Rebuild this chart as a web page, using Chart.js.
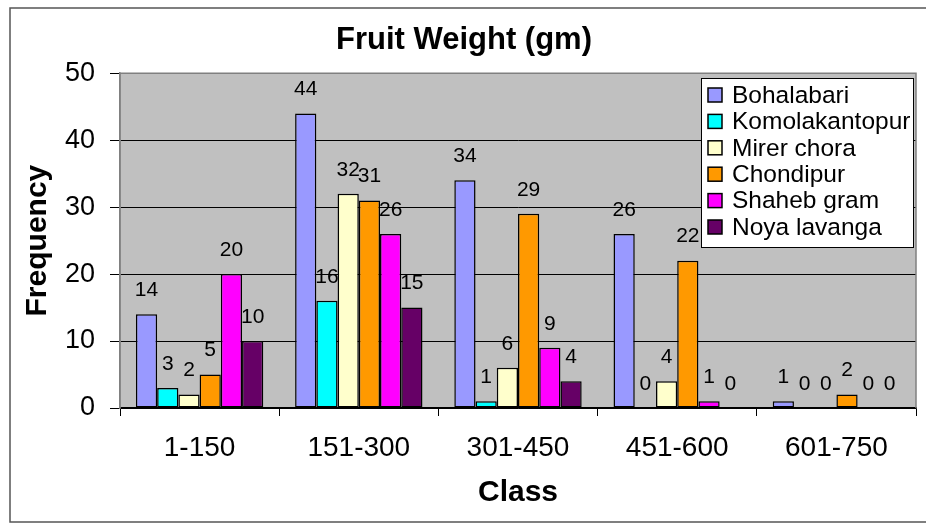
<!DOCTYPE html>
<html>
<head>
<meta charset="utf-8">
<script src="https://cdn.jsdelivr.net/npm/chart.js@4.4.1/dist/chart.umd.min.js"></script>
<style>
  html, body { margin: 0; padding: 0; background: #fff; }
  #wrap { width: 926px; height: 524px; }
</style>
</head>
<body>
<div id="wrap"><canvas id="chart" width="926" height="524"></canvas></div>
<script>
const classes = ["1-150", "151-300", "301-450", "451-600", "601-750"];
const bohalabari = [14, 44, 34, 26, 1];
const komolakantopur = [3, 16, 1, 0, 0];
const mirerChora = [2, 32, 6, 4, 0];
const chondipur = [5, 31, 29, 22, 2];
const shahebGram = [20, 26, 9, 1, 0];
const noyaLavanga = [10, 15, 4, 0, 0];
const yTicks = [0, 10, 20, 30, 40, 50];

const FONT = "'Liberation Sans', Arial, sans-serif";

// frame, grey plot area and its border
const backdrop = {
  id: 'backdrop',
  beforeDraw(chart) {
    const { ctx, chartArea: a } = chart;
    ctx.save();
    ctx.fillStyle = '#fff';
    ctx.fillRect(0, 0, chart.width, chart.height);
    ctx.strokeStyle = '#555';
    ctx.lineWidth = 1.5;
    ctx.strokeRect(10, 8, chart.width + 20, 514);
    ctx.fillStyle = '#c0c0c0';
    ctx.fillRect(a.left, a.top, a.right - a.left, a.bottom - a.top);
    ctx.restore();
  },
  afterDatasetsDraw(chart) {
    const { ctx, chartArea: a } = chart;
    ctx.save();
    ctx.strokeStyle = '#808080';
    ctx.lineWidth = 1.5;
    ctx.beginPath();
    ctx.moveTo(a.left, a.bottom);
    ctx.lineTo(a.left, a.top);
    ctx.lineTo(a.right, a.top);
    ctx.lineTo(a.right, a.bottom);
    ctx.stroke();
    ctx.restore();
  }
};

// value labels above each bar
const valueLabels = {
  id: 'valueLabels',
  afterDatasetsDraw(chart) {
    const { ctx } = chart;
    ctx.save();
    ctx.fillStyle = '#000';
    ctx.font = "21px " + FONT;
    ctx.textAlign = 'center';
    ctx.textBaseline = 'middle';
    chart.data.datasets.forEach((ds, i) => {
      chart.getDatasetMeta(i).data.forEach((bar, j) => {
        ctx.fillText(String(ds.data[j]), bar.x, bar.y - 24);
      });
    });
    ctx.restore();
  }
};

// boxed legend sitting inside the plot, top right
const boxLegend = {
  id: 'boxLegend',
  afterDraw(chart) {
    const { ctx } = chart;
    const x = 701, y = 78, w = 212, h = 169;
    ctx.save();
    ctx.fillStyle = '#fff';
    ctx.fillRect(x, y, w, h);
    ctx.strokeStyle = '#000';
    ctx.lineWidth = 1;
    ctx.strokeRect(x + 0.5, y + 0.5, w, h);
    ctx.beginPath();
    ctx.rect(x, y, w, h);
    ctx.clip();
    ctx.font = "24.5px " + FONT;
    ctx.textBaseline = 'middle';
    ctx.textAlign = 'left';
    chart.data.datasets.forEach((ds, i) => {
      const cy = y + 17 + i * 26.4;
      ctx.fillStyle = ds.backgroundColor;
      ctx.fillRect(708, cy - 7, 14, 14);
      ctx.lineWidth = 1.5;
      ctx.strokeStyle = '#000';
      ctx.strokeRect(708, cy - 7, 14, 14);
      ctx.fillStyle = '#000';
      ctx.fillText(ds.label, 732, cy + 1);
    });
    ctx.restore();
  }
};

function series(label, data, color) {
  return {
    label: label,
    data: data,
    backgroundColor: color,
    borderColor: '#000',
    borderWidth: 1.5,
    borderSkipped: false,
    categoryPercentage: 0.8,
    barPercentage: 1.0
  };
}

new Chart(document.getElementById('chart'), {
  type: 'bar',
  data: {
    labels: classes,
    datasets: [
      series('Bohalabari', bohalabari, '#9999ff'),
      series('Komolakantopur', komolakantopur, '#00ffff'),
      series('Mirer chora', mirerChora, '#ffffcc'),
      series('Chondipur', chondipur, '#ff9900'),
      series('Shaheb gram', shahebGram, '#ff00ff'),
      series('Noya lavanga', noyaLavanga, '#660066')
    ]
  },
  options: {
    responsive: false,
    animation: false,
    layout: { padding: { left: 12, right: 10, top: 10, bottom: 4 } },
    plugins: {
      legend: { display: false },
      tooltip: { enabled: false },
      title: {
        display: true,
        text: 'Fruit Weight (gm)',
        color: '#000',
        font: { family: FONT, size: 31, weight: 'bold', lineHeight: 1.2 },
        padding: { top: 12, bottom: 14 }
      }
    },
    scales: {
      x: {
        afterFit(scale) { scale.height = 112; },
        grid: {
          offset: true,
          drawOnChartArea: false,
          drawTicks: true,
          tickLength: 8,
          color: '#000',
          lineWidth: 1
        },
        border: { color: '#000', width: 1.5 },
        ticks: {
          color: '#000',
          font: { family: FONT, size: 28 },
          padding: 15,
          maxRotation: 0
        },
        title: {
          display: true,
          text: 'Class',
          color: '#000',
          font: { family: FONT, size: 30, weight: 'bold', lineHeight: 1.2 },
          padding: { top: 0, bottom: 9 }
        }
      },
      y: {
        min: 0,
        max: 50,
        afterFit(scale) { scale.width = 108; },
        afterBuildTicks(scale) { scale.ticks = yTicks.map(v => ({ value: v })); },
        grid: {
          color: '#000',
          lineWidth: 1,
          drawTicks: true,
          tickLength: 10
        },
        border: { color: '#808080', width: 1.5 },
        ticks: {
          color: '#000',
          font: { family: FONT, size: 27 },
          padding: 15
        },
        title: {
          display: true,
          text: 'Frequency',
          color: '#000',
          font: { family: FONT, size: 30, weight: 'bold', lineHeight: 1.2 },
          padding: { top: 8, bottom: 0 }
        }
      }
    }
  },
  plugins: [backdrop, valueLabels, boxLegend]
});
</script>
</body>
</html>
